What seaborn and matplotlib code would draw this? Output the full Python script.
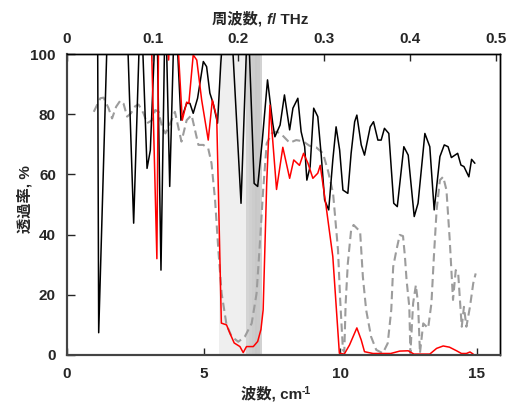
import matplotlib
matplotlib.use("Agg")
import matplotlib.pyplot as plt
import seaborn as sns
import pandas as pd
from matplotlib.offsetbox import TextArea, HPacker, AnchoredOffsetbox

# ---- data (wavenumber cm^-1, transmittance %) ----
black_x = [1.12, 1.16, 1.5, 1.85, 2.2, 2.44, 2.7, 2.93, 3.05, 3.28, 3.44, 3.6, 3.76, 3.95,
           4.17, 4.38, 4.5, 4.62, 4.78, 4.99, 5.11, 5.23, 5.35, 5.51, 5.63, 5.9, 6.37, 6.62,
           6.85, 6.98, 7.15, 7.34, 7.53, 7.61, 7.8, 7.96, 8.15, 8.27, 8.45, 8.57, 8.7, 8.78,
           8.9, 9.03, 9.18, 9.31, 9.43, 9.58, 9.73, 9.85, 9.98, 10.1, 10.28, 10.4, 10.53,
           10.61, 10.77, 10.89, 11.1, 11.22, 11.38, 11.5, 11.62, 11.78, 11.96, 12.09, 12.33,
           12.49, 12.71, 12.85, 13.1, 13.28, 13.44, 13.65, 13.81, 13.95, 14.07, 14.3, 14.42,
           14.53, 14.71, 14.81, 14.93]
black_y = [110, 7.4, 115, 130, 110, 43.8, 120, 62, 68, 120, 28.2, 120, 56, 120,
           78, 83.6, 83.6, 80.3, 85.3, 97.5, 95.8, 87, 83.6, 77, 97, 130, 50.4, 115,
           57, 56, 71.4, 91.4, 77, 72.5, 76.4, 86.4, 74.8, 82, 85.3, 74.2, 69.2, 58.1,
           62.6, 82, 79.2, 65.9, 51.5, 48.2, 64.8, 75.8, 68.1, 54.8, 53.7, 67, 77.5,
           79.7, 69.8, 66.4, 75.8, 77.5, 71.4, 71.4, 75.3, 73.6, 50.4, 49.3, 69.2,
           66.4, 46, 50.4, 73.6, 69.2, 48.2, 65.9, 69.8, 69.2, 65.6, 67, 63.1,
           62.6, 59.2, 65, 63.7]

red_x = [3.08, 3.29, 3.36, 3.55, 3.72, 3.8, 4.02, 4.22, 4.38, 4.46, 4.62, 4.75, 4.93, 5.17,
         5.32, 5.48, 5.65, 5.84, 5.96, 6.12, 6.33, 6.45, 6.57, 6.82, 6.98, 7.1, 7.18, 7.31,
         7.43, 7.67, 7.9, 8.15, 8.3, 8.51, 8.66, 8.82, 9.0, 9.18, 9.27, 9.49, 9.73, 9.97,
         10.15, 10.34, 10.61, 10.77, 10.89, 11.2, 11.6, 11.85, 12.18, 12.49, 12.7, 13.28,
         13.53, 13.77, 14.0, 14.26, 14.44, 14.62, 14.75, 14.87]
red_y = [108, 32, 115, 120, 98, 115, 110, 78, 84, 83.6, 99.7, 98, 84.7, 71.4,
         84.7, 79, 10.6, 10, 7.3, 4, 2.8, 0.8, 2.8, 2.8, 4.5, 8.5, 15, 57,
         83, 55, 69, 58.7, 64.8, 63, 67, 63.7, 58.7, 60.4, 63, 49, 32.7, 0.6,
         0.3, 3.3, 9, 5, 1.1, 0.5, 0.5, 0.5, 1.3, 1.4, 0.3, 0.3,
         2.2, 3.0, 2.6, 1.4, 0.5, 0.5, 1.0, 0.3]

gray_x = [0.98, 1.22, 1.34, 1.52, 1.65, 1.8, 1.95, 2.07, 2.2, 2.34, 2.5, 2.62, 2.8, 2.93,
          3.11, 3.23, 3.35, 3.48, 3.6, 3.78, 3.95, 4.19, 4.38, 4.56, 4.81, 4.99, 5.17, 5.29,
          5.42, 5.54, 5.66, 5.84, 6.03, 6.27, 6.51, 6.76, 6.94, 7.06, 7.18, 7.31, 7.49, 7.67,
          7.83, 8.15, 8.39, 8.64, 8.88, 9.12, 9.37, 9.56, 9.74, 9.92, 10.0, 10.1, 10.15, 10.2,
          10.28, 10.4, 10.49, 10.61, 10.73, 10.83, 10.95, 11.13, 11.32, 11.56, 11.74, 11.87,
          11.94, 12.06, 12.18, 12.3, 12.37, 12.43, 12.53, 12.57, 12.67, 12.77, 12.85, 12.92,
          13.04, 13.22, 13.34, 13.43, 13.53, 13.65, 13.77, 13.89, 14.01, 14.13, 14.23, 14.32,
          14.4, 14.45, 14.53, 14.62, 14.75, 14.87, 14.96]
gray_y = [80.8, 85.3, 85.5, 82, 78.6, 82.5, 84.5, 83.5, 79.2, 80.3, 82.7, 83.2, 80.3, 77,
          78, 81.4, 80.8, 75.8, 73.6, 77, 80.8, 70.9, 78, 79.7, 69.8, 69.8, 68.6, 63.7,
          51.5, 34.9, 20.5, 10, 6.1, 4.4, 6.1, 10.5, 20.5, 37.1, 54.8, 70.3, 73.6, 74.2,
          73.5, 70.5, 71.4, 71, 69.5, 69, 67, 61, 53.7, 34.9, 18.3, 1.7, 1, 17.2,
          30.5, 41.5, 43.2, 42.1, 41, 26, 15, 6.1, 1.7, 0.6, 3.9, 15,
          29.3, 34.9, 39.9, 39.5, 32.7, 24.9, 16, 0.6, 17.2, 23.2, 17.2, 0.6,
          10.5, 8.9, 17.2, 32.7, 48.2, 58.1, 59.2, 54.8, 38.2, 18.3, 28.2, 27.1,
          16, 9.4, 16, 9.4, 16, 23.8, 27.1]

x_ticks = [0, 5, 10, 15]
y_ticks = [0, 20, 40, 60, 80, 100]
top_ticks = [0, 0.1, 0.2, 0.3, 0.4, 0.5]
top_labels = ["0", "0.1", "0.2", "0.3", "0.4", "0.5"]

sns.set_style("white")
plt.rcParams["font.family"] = ["Liberation Sans", "Noto Sans CJK JP", "DejaVu Sans"]
plt.rcParams["font.weight"] = "bold"

fig = plt.figure(figsize=(5.08, 4.03), dpi=100)
ax = fig.add_axes([67 / 508, 48 / 403, 433 / 508, 301 / 403])

# shaded band
ax.axvspan(5.57, 6.57, color="#efefef", lw=0, zorder=0)
stripes = ["#d4d4d4", "#d0d0d0", "#cccccc", "#c8c8c8", "#cacaca", "#d2d2d2"]
edges = [6.57, 6.67, 6.77, 6.87, 6.97, 7.06, 7.15]
for c, a, b in zip(stripes, edges[:-1], edges[1:]):
    ax.axvspan(a, b, color=c, lw=0, zorder=0)

df_g = pd.DataFrame({"x": gray_x, "y": gray_y})
df_b = pd.DataFrame({"x": black_x, "y": black_y})
df_r = pd.DataFrame({"x": red_x, "y": red_y})
sns.lineplot(data=df_g, x="x", y="y", ax=ax, color="#9c9c9c", lw=1.5,
             linestyle=(0, (4, 2.2)), estimator=None, sort=False, zorder=2)
sns.lineplot(data=df_b, x="x", y="y", ax=ax, color="black", lw=1.1,
             estimator=None, sort=False, zorder=3)
sns.lineplot(data=df_r, x="x", y="y", ax=ax, color="#ff0000", lw=1.1,
             estimator=None, sort=False, zorder=4)

ax.set_xlim(0, 15.85)
ax.set_ylim(0, 100)
ax.set_xticks(x_ticks)
ax.set_yticks(y_ticks)
ax.set_xlabel("")
ax.set_ylabel("")
ax.tick_params(axis="x", direction="in", length=5, width=1, labelsize=11, pad=9,
               top=False, bottom=True)
ax.tick_params(axis="y", direction="in", length=6, width=1, labelsize=11, pad=8,
               left=True, right=False)
for lab in ax.get_xticklabels() + ax.get_yticklabels():
    lab.set_fontweight("bold")

ax2 = ax.twiny()
ax2.set_xlim(0, 0.505)
ax2.set_xticks(top_ticks)
ax2.set_xticklabels(top_labels, fontweight="bold")
ax2.tick_params(axis="x", direction="in", length=5, width=1, labelsize=11, pad=6)

for a in (ax, ax2):
    for side in ("top", "right"):
        a.spines[side].set_color("black")
        a.spines[side].set_linewidth(1.0)
    for side in ("left", "bottom"):
        a.spines[side].set_color("#444444")
        a.spines[side].set_linewidth(1.5)

# top label
p1 = TextArea("周波数, ", textprops=dict(size=11, weight="bold"))
p2 = TextArea("f", textprops=dict(size=11, weight="bold", style="italic", family="Liberation Sans"))
p3 = TextArea("/ THz", textprops=dict(size=11, weight="bold", family="Liberation Sans"))
pk = HPacker(children=[p1, p2, p3], align="baseline", pad=0, sep=0)
fig.add_artist(AnchoredOffsetbox(loc="center", child=pk, frameon=False, pad=0, borderpad=0,
                                 bbox_to_anchor=(260 / 508, 1 - 19 / 403),
                                 bbox_transform=fig.transFigure))

# bottom label
q1 = TextArea("波数, cm", textprops=dict(size=11, weight="bold"))
q2 = TextArea("-1", textprops=dict(size=7.5, weight="bold", family="Liberation Sans"))
qk = HPacker(children=[q1, q2], align="top", pad=0, sep=0)
fig.add_artist(AnchoredOffsetbox(loc="center", child=qk, frameon=False, pad=0, borderpad=0,
                                 bbox_to_anchor=(276 / 508, 1 - 394 / 403),
                                 bbox_transform=fig.transFigure))

fig.text(25 / 508, 1 - 199 / 403, "透過率, %", rotation=90, ha="center", va="center",
         fontsize=11, fontweight="bold")

fig.savefig("out.png", dpi=100)
